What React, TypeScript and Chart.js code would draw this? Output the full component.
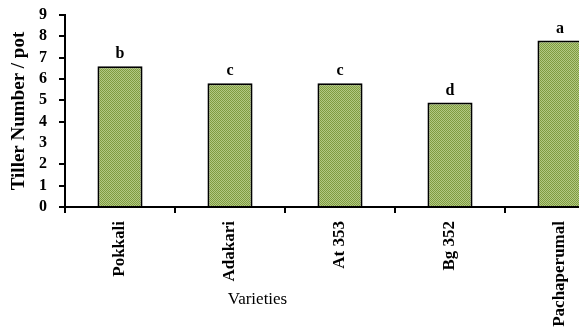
import React, { useEffect, useRef } from "react";
import { Chart, registerables } from "chart.js";

Chart.register(...registerables);

const categories = ["Pokkali", "Adakari", "At 353", "Bg 352", "Pachaperumal"];
const tillerNumber = [6.6, 5.8, 5.8, 4.9, 7.8];
const significance = ["b", "c", "c", "d", "a"];
const yMin = 0;
const yMax = 9;
const yStep = 1;
const yTitle = "Tiller Number / pot";
const xTitle = "Varieties";

const FONT = "'Liberation Serif', 'Times New Roman', serif";

function makePattern(): CanvasPattern | string {
  const c = document.createElement("canvas");
  c.width = 4;
  c.height = 4;
  const g = c.getContext("2d");
  if (!g) return "#94ad5c";
  for (let y = 0; y < 4; y++) {
    for (let x = 0; x < 4; x++) {
      g.fillStyle = (x + y) % 2 === 0 ? "#7f9b3f" : "#b2c983";
      g.fillRect(x, y, 1, 1);
    }
  }
  const p = g.createPattern(c, "repeat");
  return p || "#94ad5c";
}

const letterPlugin = {
  id: "letters",
  afterDatasetsDraw(chart: any) {
    const ctx = chart.ctx;
    const meta = chart.getDatasetMeta(0);
    ctx.save();
    ctx.fillStyle = "#000";
    ctx.font = `bold 16px ${FONT}`;
    ctx.textAlign = "center";
    ctx.textBaseline = "bottom";
    meta.data.forEach((bar: any, i: number) => {
      ctx.fillText(significance[i], bar.x, bar.y - 4);
    });
    ctx.restore();
  },
};

const xTitlePlugin = {
  id: "xTitle",
  afterDraw(chart: any) {
    const { ctx, chartArea } = chart;
    ctx.save();
    ctx.fillStyle = "#000";
    ctx.font = `17px ${FONT}`;
    ctx.textAlign = "center";
    ctx.textBaseline = "middle";
    const x = chartArea.left + (chartArea.right - chartArea.left) * 0.35;
    ctx.fillText(xTitle, x, chartArea.bottom + 93);
    ctx.restore();
  },
};

export default function App() {
  const ref = useRef<HTMLCanvasElement | null>(null);
  useEffect(() => {
    if (!ref.current) return;
    const pattern = makePattern();
    const chart = new Chart(ref.current, {
      type: "bar",
      data: {
        labels: categories,
        datasets: [
          {
            data: tillerNumber,
            backgroundColor: pattern as any,
            borderColor: "#000",
            borderWidth: 2,
            borderSkipped: "bottom",
            categoryPercentage: 1,
            barPercentage: 0.41,
          },
        ],
      },
      options: {
        animation: false,
        responsive: false,
        maintainAspectRatio: false,
        layout: { padding: { top: 15, right: 15, left: 0, bottom: 0 } },
        plugins: {
          legend: { display: false },
          tooltip: { enabled: false },
        },
        scales: {
          x: {
            type: "category",
            offset: true,
            grid: {
              display: true,
              offset: true,
              drawOnChartArea: false,
              drawTicks: true,
              tickLength: 6,
              color: "#000",
              lineWidth: 2,
            },
            border: { display: true, color: "#000", width: 2 },
            ticks: {
              autoSkip: false,
              minRotation: 90,
              maxRotation: 90,
              padding: 8,
              color: "#000",
              font: { family: FONT, size: 17, weight: "bold" },
            },
            afterFit: (s: any) => {
              s.height = 121;
              s.paddingLeft = 0;
              s.paddingRight = 0;
            },
          },
          y: {
            min: yMin,
            max: yMax,
            ticks: {
              stepSize: yStep,
              autoSkip: false,
              padding: 12,
              color: "#000",
              font: { family: FONT, size: 16, weight: "bold" },
            },
            grid: {
              display: true,
              drawOnChartArea: false,
              drawTicks: true,
              tickLength: 6,
              color: (c: any) => (c.tick && c.tick.value === 3 ? "rgba(0,0,0,0)" : "#000"),
              lineWidth: 2,
            },
            border: { display: true, color: "#000", width: 2 },
            title: {
              display: true,
              text: yTitle,
              color: "#000",
              font: { family: FONT, size: 19, weight: "bold" },
              padding: { top: 8, bottom: 0 },
            },
            afterFit: (s: any) => {
              s.width = 65;
              s.paddingTop = 0;
              s.paddingBottom = 0;
            },
          },
        },
      },
      plugins: [letterPlugin, xTitlePlugin],
    });
    return () => chart.destroy();
  }, []);

  return (
    <div
      style={{
        position: "fixed",
        left: 0,
        top: 0,
        width: 579,
        height: 328,
        overflow: "hidden",
        background: "#fff",
      }}
    >
      <canvas ref={ref} width={630} height={328} style={{ display: "block", width: 630, height: 328 }} />
    </div>
  );
}
